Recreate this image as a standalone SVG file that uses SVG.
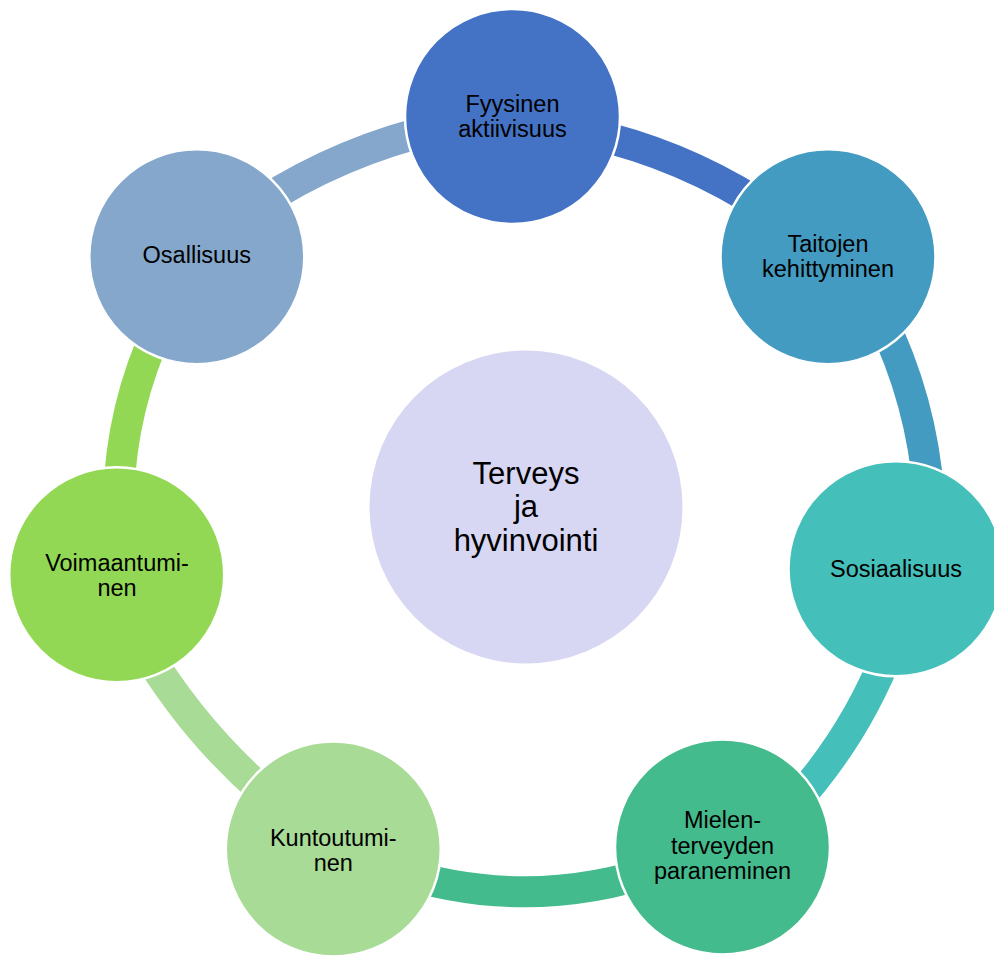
<svg xmlns="http://www.w3.org/2000/svg" width="994" height="956" viewBox="0 0 994 956">
<style>
.arc{fill:none;stroke-width:31;stroke-linecap:butt}
.node{stroke:#ffffff;stroke-width:2.5}
.lbl{font-family:"Liberation Sans",Arial,sans-serif;font-size:23.5px;fill:#000000;text-anchor:middle}
.ctr{font-family:"Liberation Sans",Arial,sans-serif;font-size:31px;fill:#000000;text-anchor:middle}
</style>
<rect width="994" height="956" fill="#ffffff"/>
<g id="connectors">
<path class="arc" stroke="#4472C4" d="M587.3,132.9 Q684.3,154.5 767.3,209.4"/>
<path class="arc" stroke="#439BC1" d="M880.1,316.1 Q921.8,400.5 928.8,494.3"/>
<path class="arc" stroke="#45BFB9" d="M889.8,647.4 Q855.4,736.9 790.5,807.3"/>
<path class="arc" stroke="#44BB8D" d="M663.5,867.6 Q527.9,914.7 392.3,870"/>
<path class="arc" stroke="#A8DB96" d="M276.7,803 Q195.9,735.9 142.4,645.5"/>
<path class="arc" stroke="#92D854" d="M118.6,496.5 Q121.4,407.3 159.1,326.5"/>
<path class="arc" stroke="#84A7CB" d="M254.7,206.9 Q339.4,151 438.4,128.2"/>
</g>
<g id="center">
<circle cx="526" cy="507" r="156.5" fill="#D7D6F3"/>
<text class="ctr" x="526" y="484">Terveys</text>
<text class="ctr" x="526" y="517">ja</text>
<text class="ctr" x="526" y="550.5">hyvinvointi</text>
</g>
<g id="n1">
<circle class="node" cx="512.5" cy="116.5" r="107.5" fill="#4472C4"/>
<text class="lbl" x="512.5" y="111.7">Fyysinen</text>
<text class="lbl" x="512.5" y="136.7">aktiivisuus</text>
</g>
<g id="n2">
<circle class="node" cx="828" cy="256.7" r="107.5" fill="#439BC1"/>
<text class="lbl" x="828" y="251.7">Taitojen</text>
<text class="lbl" x="828" y="276.7">kehittyminen</text>
</g>
<g id="n3">
<circle class="node" cx="896" cy="568.8" r="107.5" fill="#45BFB9"/>
<text class="lbl" x="896" y="576.7">Sosiaalisuus</text>
</g>
<g id="n4">
<circle class="node" cx="722.5" cy="847" r="107.5" fill="#44BB8D"/>
<text class="lbl" x="722.5" y="828.3">Mielen-</text>
<text class="lbl" x="722.5" y="854.3">terveyden</text>
<text class="lbl" x="722.5" y="879.3">paraneminen</text>
</g>
<g id="n5">
<circle class="node" cx="333.3" cy="849" r="107.5" fill="#A8DB96"/>
<text class="lbl" x="333.3" y="845.7">Kuntoutumi-</text>
<text class="lbl" x="333.3" y="871">nen</text>
</g>
<g id="n6">
<circle class="node" cx="116.7" cy="574.7" r="107.5" fill="#92D854"/>
<text class="lbl" x="117" y="570.7">Voimaantumi-</text>
<text class="lbl" x="117" y="595.7">nen</text>
</g>
<g id="n7">
<circle class="node" cx="196.8" cy="256.8" r="107.5" fill="#84A7CB"/>
<text class="lbl" x="196.8" y="263.3">Osallisuus</text>
</g>
</svg>
